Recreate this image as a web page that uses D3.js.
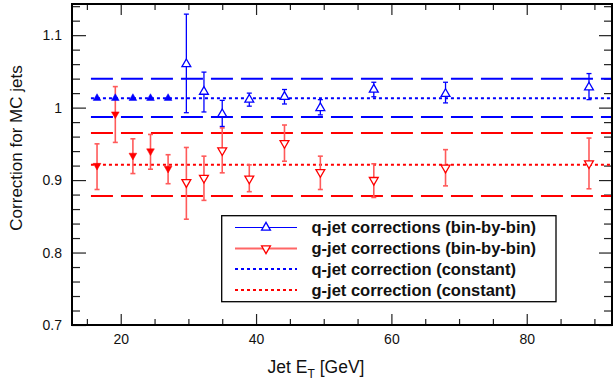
<!DOCTYPE html>
<html>
<head>
<meta charset="utf-8">
<script src="https://cdn.jsdelivr.net/npm/d3@7"></script>
<style>
  html, body { margin: 0; padding: 0; background: #fff; }
  svg { display: block; font-family: "Liberation Sans", Arial, Helvetica, sans-serif; }
</style>
</head>
<body>
<svg id="chart" width="613" height="383"></svg>
<script>
// ---------------- data ----------------
// q-jet corrections, low-ET bins (filled up-triangles)
const qLowX = [16.5, 19.2, 21.8, 24.4, 27.0];
const qLowY = [1.013, 1.013, 1.013, 1.013, 1.013];
// g-jet corrections, low-ET bins (filled down-triangles)
const gLowX = [16.5, 19.2, 21.8, 24.4, 27.0];
const gLowY = [0.920, 0.991, 0.934, 0.940, 0.916];
const gLowHi = [0.950, 1.029, 0.957, 0.963, 0.935];
const gLowLo = [0.887, 0.952, 0.909, 0.915, 0.895];
// bin-by-bin, higher ET bins (open markers)
const binX = [29.7, 32.3, 35.0, 39.0, 44.2, 49.5, 57.4, 68.0, 89.2];
const qY   = [1.060, 1.022, 0.991, 1.011, 1.015, 0.9995, 1.025, 1.019, 1.028];
const qHi  = [1.129, 1.049, 1.010, 1.020, 1.025, 1.011, 1.035, 1.035, 1.047];
const qLo  = [0.993, 0.994, 0.974, 1.002, 1.005, 0.990, 1.015, 1.0065, 1.011];
const gY   = [0.897, 0.903, 0.941, 0.902, 0.951, 0.911, 0.900, 0.917, 0.923];
const gHi  = [0.945, 0.933, 0.972, 0.921, 0.976, 0.933, 0.9225, 0.942, 0.958];
const gLo  = [0.846, 0.872, 0.910, 0.884, 0.926, 0.887, 0.876, 0.892, 0.888];
// constant corrections with bands
const qConst = 1.013, qBandHi = 1.040, qBandLo = 0.987;
const gConst = 0.921, gBandHi = 0.965, gBandLo = 0.878;
const constStartX = 15.6;
// axes
const xDomain = [12.8, 92.6];
const yDomain = [0.7, 1.143];
const xMajorTicks = [20, 40, 60, 80];
const xMinorTicks = [15, 25, 30, 35, 45, 50, 55, 65, 70, 75, 85, 90];
const yMajorTicks = [0.7, 0.8, 0.9, 1.0, 1.1];
const yMinorTicks = [0.72,0.74,0.76,0.78,0.82,0.84,0.86,0.88,0.92,0.94,0.96,0.98,1.02,1.04,1.06,1.08,1.12,1.14];
const legendLabels = [
  "q-jet corrections (bin-by-bin)",
  "g-jet corrections (bin-by-bin)",
  "q-jet correction (constant)",
  "g-jet correction (constant)"
];

// ---------------- layout ----------------
const BLUE = "#0000ff", RED = "#ff0000", RED_ERR = "#ff5a5a", RED_LEG = "#ff6666";
const m = {left: 72, top: 4};
const W = 540, H = 321;
const svg = d3.select("#chart");
const g = svg.append("g").attr("transform", `translate(${m.left},${m.top})`);
const x = d3.scaleLinear().domain(xDomain).range([0, W]);
const y = d3.scaleLinear().domain(yDomain).range([H, 0]);

// ---------------- axes ----------------
function styleAxis(sel) {
  sel.select(".domain").remove();
  sel.selectAll(".tick line").attr("stroke", "#222").attr("stroke-width", 1.2);
  sel.selectAll(".tick text").attr("fill", "#111").style("font-size", "14px")
     .style("font-family", "'Liberation Sans', Arial, sans-serif");
}
g.append("g").attr("transform", `translate(0,${H})`)
  .call(d3.axisBottom(x).tickValues(xMajorTicks).tickSize(-11).tickPadding(9).tickFormat(d3.format("d")))
  .call(styleAxis);
g.append("g").attr("transform", `translate(0,${H})`)
  .call(d3.axisBottom(x).tickValues(xMinorTicks).tickSize(-6).tickFormat(""))
  .call(styleAxis);
g.append("g")
  .call(d3.axisTop(x).tickValues(xMajorTicks).tickSize(-11).tickFormat(""))
  .call(styleAxis);
g.append("g")
  .call(d3.axisTop(x).tickValues(xMinorTicks).tickSize(-6).tickFormat(""))
  .call(styleAxis);
g.append("g")
  .call(d3.axisLeft(y).tickValues(yMajorTicks).tickSize(-14).tickPadding(10)
        .tickFormat(d => d === 1 ? "1" : d3.format(".1f")(d)))
  .call(styleAxis);
g.append("g")
  .call(d3.axisLeft(y).tickValues(yMinorTicks).tickSize(-8).tickFormat(""))
  .call(styleAxis);
g.append("g").attr("transform", `translate(${W},0)`)
  .call(d3.axisRight(y).tickValues(yMajorTicks).tickSize(-13).tickFormat(""))
  .call(styleAxis);
g.append("g").attr("transform", `translate(${W},0)`)
  .call(d3.axisRight(y).tickValues(yMinorTicks).tickSize(-8).tickFormat(""))
  .call(styleAxis);

// ---------------- constant lines ----------------
const hLines = [
  {v: qBandHi, c: BLUE, dash: "22,8"},
  {v: qConst,  c: BLUE, dash: "3,3"},
  {v: qBandLo, c: BLUE, dash: "22,8"},
  {v: gBandHi, c: RED,  dash: "22,8"},
  {v: gConst,  c: RED,  dash: "3,3"},
  {v: gBandLo, c: RED,  dash: "22,8"}
];
g.selectAll("line.hl").data(hLines).join("line").attr("class", "hl")
  .attr("x1", x(constStartX)).attr("x2", x(xDomain[1]))
  .attr("y1", d => y(d.v)).attr("y2", d => y(d.v))
  .attr("stroke", d => d.c).attr("stroke-width", 2).attr("stroke-dasharray", d => d.dash);

// ---------------- error bars ----------------
function errBars(xs, hi, lo, color, sw) {
  const data = xs.map((d, i) => ({x: d, hi: hi[i], lo: lo[i]}));
  const eg = g.append("g");
  eg.selectAll("line.v").data(data).join("line")
    .attr("x1", d => x(d.x)).attr("x2", d => x(d.x))
    .attr("y1", d => y(d.hi)).attr("y2", d => y(d.lo))
    .attr("stroke", color).attr("stroke-width", sw);
  ["hi", "lo"].forEach(k => {
    eg.selectAll("line.c" + k).data(data).join("line")
      .attr("x1", d => x(d.x) - 2.5).attr("x2", d => x(d.x) + 2.5)
      .attr("y1", d => y(d[k])).attr("y2", d => y(d[k]))
      .attr("stroke", color).attr("stroke-width", sw);
  });
}
errBars(gLowX, gLowHi, gLowLo, RED_ERR, 1.6);
errBars(binX, gHi, gLo, RED_ERR, 1.6);
errBars(binX, qHi, qLo, BLUE, 1.3);

// ---------------- markers ----------------
const triOpen = d3.symbol(d3.symbolTriangle, 34);
const triFill = d3.symbol(d3.symbolTriangle, 26);
function markers(xs, ys, color, filled, down) {
  const data = xs.map((d, i) => ({x: d, y: ys[i]}));
  g.append("g").selectAll("path").data(data).join("path")
    .attr("d", filled ? triFill() : triOpen())
    .attr("transform", d => `translate(${x(d.x)},${y(d.y)})` + (down ? " rotate(180)" : ""))
    .attr("fill", filled ? color : "#fff")
    .attr("stroke", color).attr("stroke-width", filled ? 0.5 : 1.3);
}
markers(qLowX, qLowY, BLUE, true, false);
markers(gLowX, gLowY, RED, true, true);
markers(binX, gY, RED, false, true);
markers(binX, qY, BLUE, false, false);

// ---------------- frame ----------------
g.append("rect").attr("x", 0).attr("y", 0).attr("width", W).attr("height", H)
  .attr("fill", "none").attr("stroke", "#000").attr("stroke-width", 2);

// ---------------- legend ----------------
const lg = svg.append("g");
lg.append("rect").attr("x", 221.7).attr("y", 215.7).attr("width", 334.3).attr("height", 86)
  .attr("fill", "#fff").attr("stroke", "#000").attr("stroke-width", 1.3);
const rowY = [227.5, 248.5, 269, 290];
const legStyles = [
  {c: BLUE, sw: 1.2, dash: null, marker: "up"},
  {c: RED_LEG, sw: 2, dash: null, marker: "down"},
  {c: BLUE, sw: 2, dash: "3,3", marker: null},
  {c: RED, sw: 2, dash: "3,3", marker: null}
];
legendLabels.forEach((t, i) => {
  const s = legStyles[i];
  lg.append("line").attr("x1", 235).attr("x2", 297).attr("y1", rowY[i]).attr("y2", rowY[i])
    .attr("stroke", s.c).attr("stroke-width", s.sw).attr("stroke-dasharray", s.dash);
  if (s.marker) {
    lg.append("path").attr("d", triOpen())
      .attr("transform", `translate(266,${rowY[i]})` + (s.marker === "down" ? " rotate(180)" : ""))
      .attr("fill", "#fff").attr("stroke", s.marker === "down" ? RED : BLUE).attr("stroke-width", 1.3);
  }
  lg.append("text").attr("x", 311.5).attr("y", rowY[i] + 5.5)
    .style("font-size", "16.5px").style("font-weight", "bold").attr("fill", "#111").text(t);
});

// ---------------- axis titles ----------------
const xt = svg.append("text").attr("x", 316).attr("y", 373).attr("text-anchor", "middle")
  .style("font-size", "17.5px").attr("fill", "#111");
xt.append("tspan").text("Jet E");
xt.append("tspan").attr("dy", 5).style("font-size", "12px").text("T");
xt.append("tspan").attr("dy", -5).text(" [GeV]");

svg.append("text").attr("transform", "translate(22,148) rotate(-90)").attr("text-anchor", "middle")
  .style("font-size", "17px").attr("fill", "#111").text("Correction for MC jets");
</script>
</body>
</html>
